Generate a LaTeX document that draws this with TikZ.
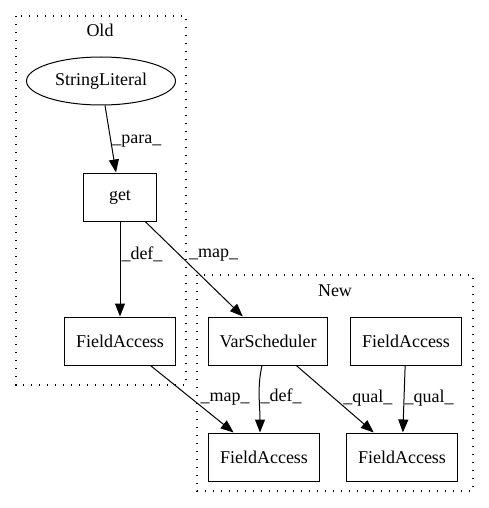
\documentclass[tikz,border=0pt]{standalone}
\usepackage{fontspec}
\setmainfont{Liberation Serif}
\usetikzlibrary{arrows.meta,shapes.geometric}

\begin{document}
\begin{tikzpicture}[x=1pt,y=-1pt,
        box/.style={draw,line width=1pt,minimum height=48pt,inner sep=0pt},
        edge/.style={line width=1pt,-{Triangle[length=13pt,width=10pt]}},
        lbl/.style={inner sep=1pt,anchor=west},
        cluster/.style={line width=1.3pt,dash pattern=on 1.3pt off 6.7pt}]
                \useasboundingbox (0,0) rectangle (489,508);
                \begin{scope}[font=\fontsize{18}{20}\selectfont]
                \draw[cluster] (16,16) rectangle (186,385);
                \node (old) at (100,30) {Old};
                \draw[cluster] (197,275) rectangle (473,491);
                \node (new) at (335,291) {New};
                \node[draw,ellipse,line width=1pt,minimum width=149pt,minimum height=48pt,inner sep=0pt]
                    (sl) at (101,81) {StringLiteral};
                \node[box,minimum width=73pt] (get) at (120,197) {get};
                \node[box,minimum width=111pt] (fa1) at (120,341) {FieldAccess};
                \node[box,minimum width=119pt] (vs) at (268,341) {VarScheduler};
                \node[box,minimum width=111pt] (fa2) at (406,341) {FieldAccess};
                \node[box,minimum width=111pt] (fa3) at (264,457) {FieldAccess};
                \node[box,minimum width=111pt] (fa4) at (402,457) {FieldAccess};
                \draw[edge]
                    (sl) -- (get) node[lbl,pos=0.54] {\_para\_};
                \draw[edge]
                    (get) -- (fa1) node[lbl,pos=0.35] {\_def\_};
                \draw[edge]
                    (get) -- (vs) node[lbl,pos=0.354,xshift=8pt] {\_map\_};
                \draw[edge]
                    (fa1) -- (fa3) node[lbl,pos=0.5,xshift=7pt] {\_map\_};
                \draw[edge]
                    ([xshift=-6pt]vs.south) .. controls +(-5,22) and +(0,-28) .. ([xshift=-4pt]fa3.north)
                    node[lbl,pos=0.5] {\_def\_};
                \draw[edge]
                    (vs) -- (fa4) node[lbl,pos=0.485,xshift=8pt] {\_qual\_};
                \draw[edge]
                    (fa2) -- (fa4) node[lbl,pos=0.49,inner sep=0pt] {\_qual\_};
                \end{scope}
            \end{tikzpicture}
\end{document}
